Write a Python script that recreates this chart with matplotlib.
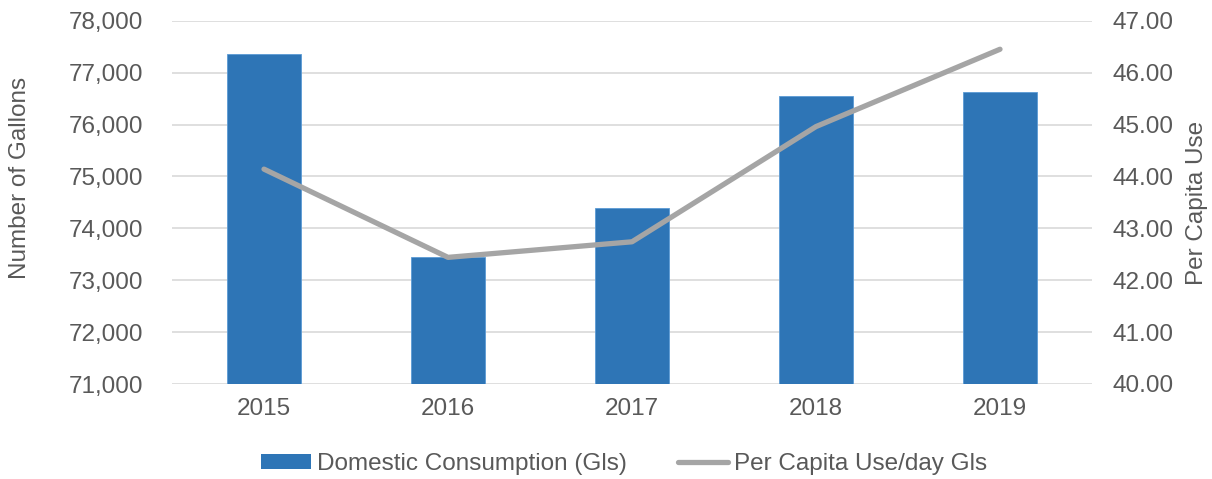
import matplotlib.pyplot as plt
from matplotlib.ticker import FuncFormatter, MultipleLocator
from matplotlib.lines import Line2D
from matplotlib.patches import Patch

years = ["2015", "2016", "2017", "2018", "2019"]
consumption = [77350, 73445, 74390, 76555, 76620]
per_capita = [44.14, 42.44, 42.74, 44.96, 46.45]

plt.rcParams['font.family'] = ['Liberation Sans', 'DejaVu Sans']
text_color = '#595959'
fs = 17.5

W, H = 1212, 479
fig = plt.figure(figsize=(W / 100, H / 100), dpi=100)
ax = fig.add_axes([172 / W, 1 - 384 / H, 920 / W, (384 - 20.7) / H])
ax2 = ax.twinx()

x = range(len(years))
ax.bar(x, consumption, width=0.4, color='#2E75B6', edgecolor='#5B9BD5',
       linewidth=0.6, zorder=2)
ax.set_ylim(71000, 78000)
ax.set_xlim(-0.5, len(years) - 0.5)
ax.yaxis.set_major_locator(MultipleLocator(1000))
ax.yaxis.set_major_formatter(FuncFormatter(lambda v, p: f"{v:,.0f}"))
ax.grid(axis='y', color='#D9D9D9', linewidth=1.2, zorder=0)
ax.set_axisbelow(True)
ax.set_xticks(list(x))
ax.set_xticklabels(years)

ax2.plot(x, per_capita, color='#A5A5A5', linewidth=3.8,
         solid_capstyle='round', solid_joinstyle='round', zorder=3)
ax2.set_ylim(40, 47)
ax2.yaxis.set_major_locator(MultipleLocator(1))
ax2.yaxis.set_major_formatter(FuncFormatter(lambda v, p: f"{v:.2f}"))

for a in (ax, ax2):
    for s in a.spines.values():
        s.set_visible(False)
    a.tick_params(length=0, labelsize=fs, labelcolor=text_color)
ax.tick_params(axis='y', pad=21)
ax2.tick_params(axis='y', pad=15)
ax.tick_params(axis='x', pad=10)

# axis titles placed in figure pixels
fig.text(20 / W, 1 - 178 / H, "Number of Gallons", rotation=90, ha='center',
         va='center', fontsize=fs, color=text_color)
fig.text(1197 / W, 1 - 203 / H, "Per Capita Use", rotation=90, ha='center',
         va='center', fontsize=fs, color=text_color)

handles = [Patch(facecolor='#2E75B6', edgecolor='none'),
           Line2D([0], [0], color='#A5A5A5', linewidth=3.8, solid_capstyle='round')]
fig.legend(handles, ["Domestic Consumption (Gls)", "Per Capita Use/day Gls"],
           loc='center', bbox_to_anchor=(624 / W, 1 - 464 / H), ncol=2,
           frameon=False, fontsize=fs, labelcolor=text_color,
           handlelength=2.05, handletextpad=0.25, columnspacing=2.1,
           handleheight=0.6)

fig.savefig("out.png", dpi=100)
